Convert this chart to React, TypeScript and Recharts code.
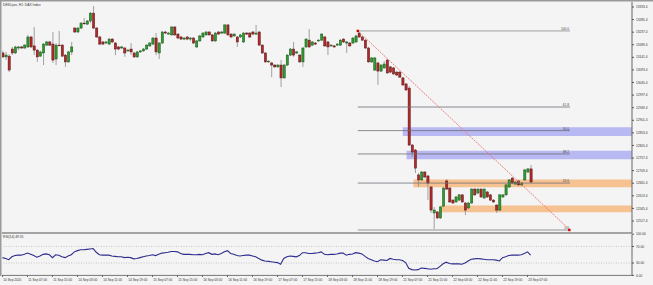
import {
  ComposedChart,
  LineChart,
  Bar,
  Line,
  XAxis,
  YAxis,
  ReferenceArea,
  ReferenceLine,
  ReferenceDot,
} from 'recharts';

// DE30 H1 candles, 10 Sep 2020 -> 23 Sep 2020
const opens = [
  13158, 13143, 13146, 13173, 13158, 13177, 13181, 13177, 13181, 13219,
  13185, 13169, 13146, 13158, 13188, 13200, 13192, 13135, 13188, 13188,
  13150, 13124, 13162, 13253, 13238, 13253, 13272, 13268, 13280, 13310,
  13253, 13219, 13200, 13196, 13192, 13211, 13196, 13181, 13177, 13177,
  13166, 13173, 13158, 13143, 13162, 13166, 13173, 13185, 13192, 13215,
  13158, 13196, 13238, 13230, 13227, 13257, 13230, 13219, 13211, 13219,
  13211, 13215, 13181, 13204, 13219, 13227, 13238, 13227, 13204, 13238,
  13234, 13234, 13265, 13230, 13223, 13219, 13219, 13200, 13234, 13234,
  13238, 13230, 13238, 13188, 13158, 13124, 13120, 13112, 13105, 13112,
  13063, 13112, 13150, 13173, 13158, 13150, 13124, 13181, 13207, 13188,
  13196, 13204, 13207, 13219, 13200, 13185, 13185, 13188, 13188, 13211,
  13196, 13196, 13196, 13200, 13234, 13219, 13207, 13177, 13124, 13093,
  13120, 13089, 13101, 13131, 13105, 13101, 13085, 13085, 13063, 13040,
  13024, 12807, 12788, 12693, 12674, 12704, 12689, 12647, 12548, 12552,
  12529, 12574, 12670, 12643, 12597, 12590, 12597, 12617, 12586, 12567,
  12586, 12639, 12624, 12639, 12605, 12628, 12617, 12597, 12578, 12559,
  12609, 12617, 12647, 12681, 12658, 12670, 12655, 12674, 12704, 12716,
];
const highs = [
  13166, 13162, 13154, 13181, 13185, 13185, 13185, 13192, 13227, 13223,
  13257, 13173, 13166, 13196, 13204, 13204, 13238, 13196, 13242, 13192,
  13154, 13166, 13200, 13257, 13257, 13276, 13291, 13284, 13314, 13337,
  13257, 13223, 13204, 13204, 13215, 13215, 13200, 13185, 13185, 13181,
  13173, 13196, 13162, 13166, 13169, 13177, 13192, 13200, 13219, 13234,
  13200, 13242, 13242, 13238, 13261, 13261, 13234, 13223, 13219, 13223,
  13219, 13219, 13207, 13227, 13238, 13242, 13242, 13230, 13238, 13242,
  13242, 13268, 13268, 13234, 13234, 13223, 13230, 13238, 13238, 13238,
  13242, 13265, 13242, 13192, 13162, 13131, 13124, 13116, 13116, 13131,
  13116, 13154, 13177, 13200, 13166, 13154, 13181, 13215, 13249, 13204,
  13200, 13211, 13234, 13223, 13204, 13192, 13188, 13196, 13211, 13215,
  13204, 13200, 13219, 13227, 13242, 13223, 13211, 13181, 13143, 13143,
  13124, 13116, 13127, 13135, 13108, 13105, 13089, 13089, 13066, 13043,
  13032, 12811, 12792, 12700, 12708, 12708, 12693, 12651, 12571, 12555,
  12574, 12647, 12677, 12647, 12601, 12613, 12620, 12620, 12590, 12590,
  12643, 12643, 12643, 12643, 12643, 12632, 12620, 12601, 12582, 12620,
  12620, 12658, 12677, 12685, 12670, 12674, 12666, 12716, 12719, 12731,
];
const lows = [
  13139, 13131, 13085, 13150, 13154, 13169, 13173, 13173, 13177, 13177,
  13150, 13124, 13143, 13112, 13185, 13185, 13120, 13112, 13185, 13143,
  13105, 13120, 13150, 13234, 13234, 13249, 13265, 13265, 13272, 13249,
  13215, 13188, 13188, 13192, 13188, 13196, 13150, 13169, 13173, 13143,
  13162, 13150, 13139, 13139, 13158, 13162, 13169, 13181, 13188, 13150,
  13135, 13192, 13230, 13227, 13223, 13223, 13211, 13207, 13207, 13207,
  13204, 13192, 13177, 13200, 13215, 13223, 13223, 13200, 13200, 13227,
  13230, 13230, 13223, 13215, 13219, 13181, 13215, 13196, 13227, 13215,
  13227, 13227, 13185, 13154, 13120, 13120, 13066, 13101, 13101, 13028,
  13059, 13108, 13146, 13143, 13154, 13120, 13105, 13177, 13177, 13185,
  13188, 13200, 13204, 13181, 13150, 13181, 13177, 13185, 13185, 13196,
  13158, 13181, 13192, 13196, 13215, 13204, 13173, 13120, 13120, 13089,
  13036, 13085, 13097, 13078, 13082, 13074, 13070, 13063, 13032, 13013,
  12803, 12761, 12700, 12647, 12670, 12681, 12597, 12548, 12483, 12525,
  12525, 12571, 12636, 12586, 12582, 12586, 12594, 12586, 12540, 12563,
  12582, 12613, 12620, 12605, 12601, 12605, 12594, 12586, 12548, 12555,
  12605, 12613, 12643, 12658, 12655, 12651, 12651, 12670, 12700, 12662,
];
const closes = [
  13143, 13150, 13093, 13158, 13181, 13181, 13177, 13188, 13219, 13181,
  13169, 13143, 13162, 13192, 13200, 13188, 13131, 13188, 13186, 13146,
  13124, 13162, 13181, 13238, 13253, 13272, 13270, 13280, 13310, 13253,
  13219, 13192, 13192, 13200, 13211, 13200, 13173, 13173, 13181, 13158,
  13169, 13162, 13143, 13162, 13166, 13173, 13188, 13196, 13215, 13162,
  13196, 13238, 13234, 13234, 13257, 13227, 13215, 13211, 13215, 13211,
  13215, 13196, 13204, 13223, 13234, 13238, 13227, 13204, 13234, 13230,
  13238, 13265, 13227, 13219, 13230, 13200, 13227, 13234, 13230, 13219,
  13230, 13234, 13188, 13158, 13124, 13127, 13112, 13105, 13112, 13063,
  13112, 13150, 13173, 13150, 13162, 13124, 13177, 13211, 13181, 13200,
  13192, 13207, 13230, 13185, 13181, 13188, 13181, 13192, 13207, 13200,
  13200, 13185, 13215, 13223, 13219, 13207, 13177, 13124, 13139, 13139,
  13089, 13112, 13116, 13082, 13085, 13078, 13074, 13066, 13036, 13017,
  12807, 12780, 12719, 12674, 12704, 12685, 12662, 12559, 12559, 12529,
  12571, 12643, 12639, 12590, 12586, 12609, 12617, 12590, 12559, 12586,
  12639, 12617, 12639, 12609, 12639, 12609, 12597, 12590, 12559, 12617,
  12617, 12655, 12674, 12662, 12666, 12655, 12662, 12712, 12716, 12666,
];
const rsi14 = [
  43, 41, 38, 45, 48, 49, 49, 51, 54, 51,
  48, 44, 47, 51, 52, 50, 43, 50, 49, 45,
  43, 47, 50, 57, 60, 62, 62, 63, 64, 65,
  56, 50, 49, 49, 49, 47, 46, 45, 45, 43,
  44, 43, 40, 41, 43, 45, 47, 48, 50, 48,
  51, 54, 55, 56, 58, 58, 57, 53, 51, 51,
  51, 50, 50, 51, 50, 53, 55, 51, 52, 50,
  53, 57, 60, 53, 51, 48, 47, 48, 49, 49,
  47, 45, 41, 37, 35, 34, 33, 32, 31, 27,
  41, 45, 47, 46, 45, 48, 55, 55, 53, 53,
  54, 55, 57, 51, 50, 51, 51, 52, 54, 54,
  49, 51, 52, 55, 54, 52, 46, 41, 38, 35,
  33, 38, 37, 36, 41, 39, 38, 38, 36, 31,
  17, 14, 13, 14, 18, 17, 16, 15, 16, 16,
  22, 28, 32, 29, 28, 28, 28, 27, 30, 35,
  39, 40, 41, 40, 39, 38, 38, 38, 37, 35,
  43, 45, 48, 49, 49, 49, 50, 53, 57, 49,
];

// one label every 8 bars
const timeLabels = [
  '10 Sep 2020', '11 Sep 07:00', '11 Sep 15:00', '14 Sep 03:00', '14 Sep 11:00',
  '14 Sep 19:00', '15 Sep 07:00', '15 Sep 15:00', '16 Sep 03:00', '16 Sep 11:00',
  '16 Sep 19:00', '17 Sep 07:00', '17 Sep 15:00', '18 Sep 03:00', '18 Sep 11:00',
  '18 Sep 19:00', '21 Sep 07:00', '21 Sep 15:00', '22 Sep 03:00', '22 Sep 11:00',
  '22 Sep 19:00', '23 Sep 07:00',
];
const priceTicks = [
  12517.4, 12565.4, 12613.4, 12661.4, 12709.4, 12757.4, 12805.4, 12853.4, 12901.4,
  12949.4, 12997.4, 13045.4, 13093.4, 13141.4, 13189.4, 13237.4, 13285.4, 13333.4,
];
const rsiTicks = [0, 30, 70, 100];

// fibonacci retracement drawn from the 18 Sep high to the 21 Sep low
const fibLevels = [
  { label: '100.0', price: 13242 },
  { label: '61.8', price: 12952 },
  { label: '50.0', price: 12862 },
  { label: '38.2', price: 12773 },
  { label: '23.6', price: 12662 },
  { label: '0.0', price: 12483 },
];
const fibBars = [113.7, 181.6];

// supply / demand zones
const zones = [
  { from: 128.1, top: 12875, bottom: 12841, kind: 'supply' },
  { from: 129.3, top: 12785, bottom: 12753, kind: 'supply' },
  { from: 131.5, top: 12676, bottom: 12646, kind: 'demand' },
  { from: 140.2, top: 12576, bottom: 12551, kind: 'demand' },
];

const candles = opens.map((open, i) => ({
  i,
  open,
  high: highs[i],
  low: lows[i],
  close: closes[i],
  rsi: rsi14[i],
}));
const timeTicks = timeLabels.map((_, k) => k * 8);

const barDomain: [number, number] = [-0.16, 201.44];
const priceDomain: [number, number] = [12471.6, 13352.4];
const font = '"Liberation Sans", Arial, sans-serif';
const fibTop = fibLevels[0].price;
const fibBottom = fibLevels[fibLevels.length - 1].price;

const CandleShape = (props: any) => {
  const { x, y, width, height, payload } = props;
  if (!payload || height == null) return null;
  const { open, close, high, low } = payload;
  const top0 = Math.min(y, y + height);
  const h = Math.abs(height);
  const range = high - low || 1;
  const toY = (v: number) => top0 + ((high - v) / range) * h;
  const cx = x + width / 2;
  const bodyTop = toY(Math.max(open, close));
  const bodyBot = toY(Math.min(open, close));
  const up = close > open;
  return (
    <g>
      <line x1={cx} x2={cx} y1={top0} y2={top0 + h} stroke="#8c8c8c" strokeWidth={0.8} />
      <rect
        x={cx - 1.1}
        y={bodyTop}
        width={2.2}
        height={Math.max(bodyBot - bodyTop, 0.7)}
        fill={up ? '#2f9a2f' : '#b02a2a'}
        stroke={up ? '#1a561a' : '#5a1414'}
        strokeWidth={0.5}
      />
    </g>
  );
};

const fibLabel = (text: string) => (props: any) => {
  const vb = props.viewBox || {};
  return (
    <text x={vb.x + vb.width - 1} y={vb.y - 1} fontSize={3.2} fill="#444" textAnchor="end" fontFamily={font}>
      {text}
    </text>
  );
};

const TimeTick = (props: any) => {
  const { x, y, payload } = props;
  const label = timeLabels[Math.round(payload.value / 8)];
  return (
    <text x={x + 0.8} y={y + 2.6} fontSize={3.2} fill="#333" fontFamily={font}>
      {label}
    </text>
  );
};

const marker = (p: any) => <rect x={p.cx - 1.2} y={p.cy - 1.2} width={2.4} height={2.4} fill="#d40000" />;

export default function App() {
  return (
    <div style={{ position: 'absolute', left: 0, top: 0, width: 653, height: 285, background: '#f4f4f4', overflow: 'hidden' }}>
      <div style={{ position: 'absolute', left: 0, top: 0 }}>
        <ComposedChart width={653} height={234} data={candles} margin={{ top: 2, right: 0, bottom: 0, left: 2 }}>
          <XAxis
            type="number"
            dataKey="i"
            domain={barDomain}
            allowDataOverflow
            tick={false}
            tickLine={false}
            height={1}
            axisLine={{ stroke: '#8a8a8a', strokeWidth: 1.5 }}
          />
          <YAxis
            orientation="right"
            width={21}
            domain={priceDomain}
            allowDataOverflow
            ticks={priceTicks}
            interval={0}
            tickSize={2}
            tickLine={{ stroke: '#555' }}
            axisLine={{ stroke: '#666' }}
            tick={{ fontSize: 3.2, fill: '#333', fontFamily: font }}
            tickFormatter={(v: number) => v.toFixed(1)}
          />
          {zones.map((z, k) => (
            <ReferenceArea
              key={'z' + k}
              x1={z.from}
              x2={barDomain[1]}
              y1={z.bottom}
              y2={z.top}
              fill={z.kind === 'supply' ? '#8f8ff0' : '#f7a04f'}
              fillOpacity={0.6}
              stroke="none"
              ifOverflow="visible"
            />
          ))}
          <Bar dataKey={(d: any) => [d.low, d.high]} shape={<CandleShape />} barSize={2} isAnimationActive={false} />
          {fibLevels.map((f) => {
            const edge = f.price === fibTop || f.price === fibBottom;
            return (
              <ReferenceLine
                key={f.label}
                segment={[
                  { x: fibBars[0], y: f.price },
                  { x: fibBars[1], y: f.price },
                ]}
                stroke={edge ? '#c4c4c4' : '#6e6e78'}
                strokeWidth={edge ? 1.8 : 0.8}
                ifOverflow="visible"
                label={fibLabel(f.label)}
              />
            );
          })}
          <ReferenceLine
            segment={[
              { x: fibBars[0], y: fibTop },
              { x: fibBars[1], y: fibBottom },
            ]}
            stroke="#ec6f6f"
            strokeWidth={0.9}
            strokeDasharray="2 1"
            ifOverflow="visible"
          />
          <ReferenceDot x={fibBars[0]} y={fibTop} shape={marker} ifOverflow="visible" />
          <ReferenceDot x={fibBars[1] - 0.2} y={fibBottom} shape={marker} ifOverflow="visible" />
        </ComposedChart>
      </div>
      <div style={{ position: 'absolute', left: 0, top: 228 }}>
        <LineChart width={653} height={57} data={candles} margin={{ top: 6.1, right: 0, bottom: 0, left: 2 }}>
          <XAxis
            type="number"
            dataKey="i"
            domain={barDomain}
            allowDataOverflow
            ticks={timeTicks}
            interval={0}
            height={9.6}
            tickSize={1.5}
            tickMargin={1}
            tickLine={{ stroke: '#555' }}
            axisLine={{ stroke: '#777' }}
            tick={<TimeTick />}
          />
          <YAxis
            orientation="right"
            width={21}
            domain={[0, 100]}
            ticks={rsiTicks}
            interval={0}
            tickSize={2}
            tickLine={{ stroke: '#555' }}
            axisLine={{ stroke: '#666' }}
            tick={{ fontSize: 3.2, fill: '#333', fontFamily: font }}
            tickFormatter={(v: number) => v.toFixed(2)}
          />
          <ReferenceLine y={70} stroke="#a8a8a8" strokeWidth={0.6} strokeDasharray="1 1.5" />
          <ReferenceLine y={30} stroke="#a8a8a8" strokeWidth={0.6} strokeDasharray="1 1.5" />
          <Line type="linear" dataKey="rsi" stroke="#2d2d8e" strokeWidth={1.1} dot={false} isAnimationActive={false} />
        </LineChart>
      </div>
      <svg width={653} height={285} style={{ position: 'absolute', left: 0, top: 0, pointerEvents: 'none' }}>
        <line x1={0} x2={653} y1={0.75} y2={0.75} stroke="#9a9a9a" strokeWidth={1.5} />
        <line x1={0.75} x2={0.75} y1={0} y2={276} stroke="#9a9a9a" strokeWidth={1.5} />
        <text x={3} y={6} fontSize={3.3} fill="#333" fontFamily={font}>
          DE30.pro, H1: DAX Index
        </text>
        <text x={3} y={238.2} fontSize={3.3} fill="#333" fontFamily={font}>
          RSI(14) 49.31
        </text>
      </svg>
    </div>
  );
}
